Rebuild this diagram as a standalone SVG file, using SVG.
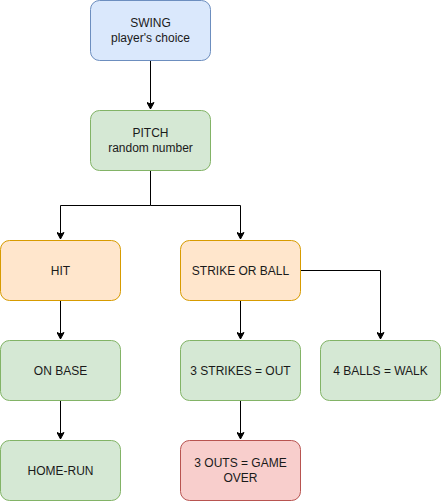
<svg xmlns="http://www.w3.org/2000/svg" width="441" height="501" viewBox="0 0 441 501">
<style>
rect{stroke-width:1}
.blue{fill:#dae8fc;stroke:#6c8ebf}
.green{fill:#d5e8d4;stroke:#82b366}
.orange{fill:#ffe6cc;stroke:#d79b00}
.red{fill:#f8cecc;stroke:#b85450}
text{font-family:"Liberation Sans",Arial,sans-serif;font-size:12px;fill:#1a1a1a;text-anchor:middle}
.edge{fill:none;stroke:#000;stroke-width:1}
</style>
<defs>
<marker id="arr" markerWidth="8" markerHeight="8" viewBox="0 0 8 8" refX="7" refY="4" orient="auto" markerUnits="userSpaceOnUse">
<path d="M0.5,0.5 L7,4 L0.5,7.5 L2,4 Z" fill="#000" stroke="#000" stroke-width="1"/>
</marker>
</defs>
<g id="connectors">
<path class="edge" d="M150.5,60.5 V109" marker-end="url(#arr)"/>
<path class="edge" d="M150.5,170.5 V205.5 H60.5 V239" marker-end="url(#arr)"/>
<path class="edge" d="M150.5,205.5 H240.5 V239" marker-end="url(#arr)"/>
<path class="edge" d="M300.5,270.5 H380.5 V339" marker-end="url(#arr)"/>
<path class="edge" d="M60.5,300.5 V339" marker-end="url(#arr)"/>
<path class="edge" d="M240.5,300.5 V339" marker-end="url(#arr)"/>
<path class="edge" d="M60.5,400.5 V439" marker-end="url(#arr)"/>
<path class="edge" d="M240.5,400.5 V439" marker-end="url(#arr)"/>
</g>
<g id="swing"><rect class="blue" x="90.5" y="0.5" width="120" height="60" rx="9"/><text x="150.5" y="27">SWING</text><text x="150.5" y="41.5">player's choice</text></g>
<g id="pitch"><rect class="green" x="90.5" y="110.5" width="120" height="60" rx="9"/><text x="150.5" y="137">PITCH</text><text x="150.5" y="151.5">random number</text></g>
<g id="hit"><rect class="orange" x="0.5" y="240.5" width="120" height="60" rx="9"/><text x="60.5" y="275">HIT</text></g>
<g id="strike-or-ball"><rect class="orange" x="180.5" y="240.5" width="120" height="60" rx="9"/><text x="240.5" y="275">STRIKE OR BALL</text></g>
<g id="on-base"><rect class="green" x="0.5" y="340.5" width="120" height="60" rx="9"/><text x="60.5" y="375">ON BASE</text></g>
<g id="three-strikes"><rect class="green" x="180.5" y="340.5" width="120" height="60" rx="9"/><text x="240.5" y="375">3 STRIKES = OUT</text></g>
<g id="four-balls"><rect class="green" x="320.5" y="340.5" width="120" height="60" rx="9"/><text x="380.5" y="375">4 BALLS = WALK</text></g>
<g id="home-run"><rect class="green" x="0.5" y="440.5" width="120" height="60" rx="9"/><text x="60.5" y="475">HOME-RUN</text></g>
<g id="game-over"><rect class="red" x="180.5" y="440.5" width="120" height="60" rx="9"/><text x="240.5" y="467">3 OUTS = GAME</text><text x="240.5" y="481.5">OVER</text></g>
</svg>
